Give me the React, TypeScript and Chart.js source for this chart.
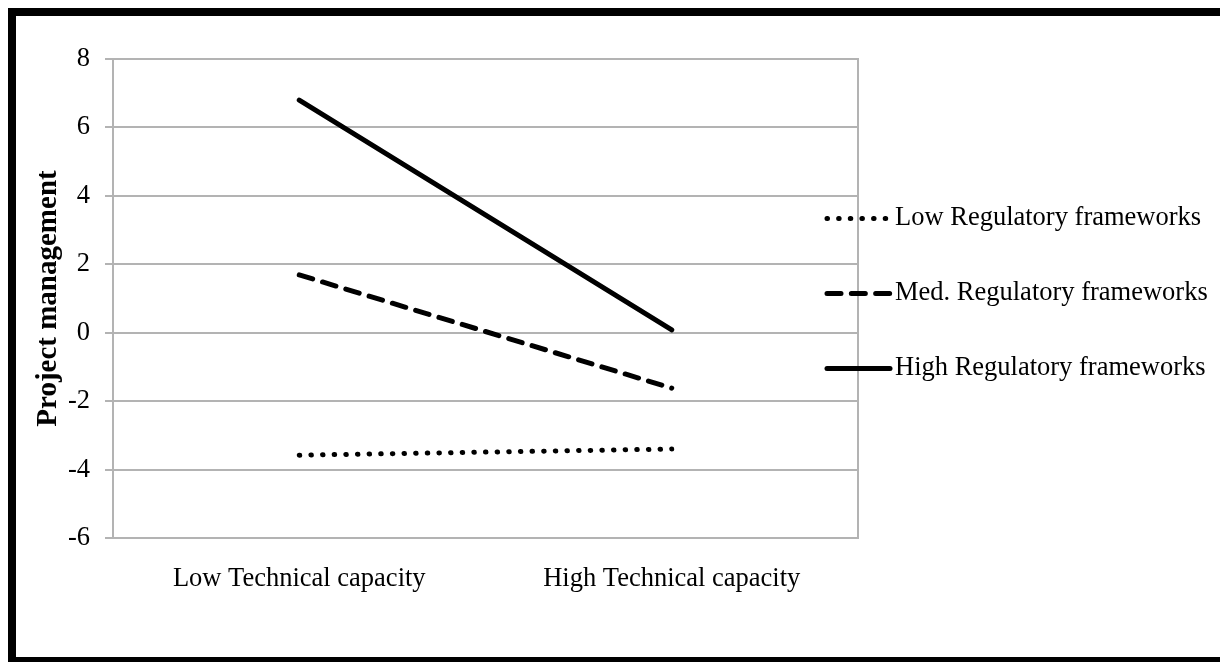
import React, { useEffect, useRef } from "react";
import { Chart, registerables } from "chart.js";

Chart.register(...registerables);

const categories = ["Low Technical capacity", "High Technical capacity"];
const seriesLabels = ["Low Regulatory frameworks", "Med. Regulatory frameworks", "High Regulatory frameworks"];
const lowRegulatory = [-3.58, -3.4];
const medRegulatory = [1.69, -1.62];
const highRegulatory = [6.8, 0.08];
const yTickMin = -6;
const yTickMax = 8;
const yTickStep = 2;
const yTitle = "Project management";

const SERIF = "'Liberation Serif', 'Times New Roman', serif";
const GRID = "#b3b3b3";

const legendPlugin = {
  id: "sideLegend",
  afterDraw(chart: any) {
    const { ctx, chartArea } = chart;
    const startX = chartArea.right - 31;
    const endX = startX + 63;
    const midY = (chartArea.top + chartArea.bottom) / 2;
    chart.data.datasets.forEach((ds: any, i: number) => {
      const y = midY - 80 + i * 75;
      ctx.save();
      ctx.strokeStyle = ds.borderColor;
      ctx.lineWidth = ds.borderWidth;
      ctx.lineCap = "round";
      ctx.setLineDash(ds.borderDash || []);
      ctx.beginPath();
      ctx.moveTo(startX, y);
      ctx.lineTo(endX, y);
      ctx.stroke();
      ctx.setLineDash([]);
      ctx.fillStyle = "#000";
      ctx.font = `26.5px ${SERIF}`;
      ctx.textBaseline = "middle";
      ctx.textAlign = "left";
      ctx.fillText(ds.label, endX + 5, y);
      ctx.restore();
    });
  },
};

export default function App() {
  const canvasRef = useRef<HTMLCanvasElement | null>(null);

  useEffect(() => {
    if (!canvasRef.current) return;
    const common = {
      borderColor: "#000",
      borderWidth: 5,
      borderCapStyle: "round",
      borderJoinStyle: "round",
      pointRadius: 0,
      pointHoverRadius: 0,
      tension: 0,
      fill: false,
    };
    const chart = new Chart(canvasRef.current, {
      type: "line",
      data: {
        labels: categories,
        datasets: [
          { ...common, label: seriesLabels[0], data: lowRegulatory, borderDash: [0.5, 11.14] },
          { ...common, label: seriesLabels[1], data: medRegulatory, borderDash: [14, 10.33] },
          { ...common, label: seriesLabels[2], data: highRegulatory, borderDash: [] },
        ],
      } as any,
      options: {
        animation: false,
        responsive: true,
        maintainAspectRatio: false,
        layout: { padding: { top: 43, right: 362, left: 0, bottom: 0 } },
        plugins: {
          legend: { display: false },
          tooltip: { enabled: false },
        },
        scales: {
          x: {
            type: "category",
            offset: true,
            border: { display: false },
            grid: { display: false, drawTicks: false },
            ticks: {
              color: "#000",
              font: { family: SERIF, size: 26.5 },
              padding: 25,
              maxRotation: 0,
              autoSkip: false,
            },
            afterFit: (scale: any) => {
              scale.height = 119;
            },
          },
          y: {
            type: "linear",
            min: yTickMin,
            max: yTickMax,
            border: { display: true, color: GRID, width: 2 },
            grid: { color: GRID, lineWidth: 2, drawTicks: true, tickLength: 8 },
            ticks: {
              stepSize: yTickStep,
              color: "#000",
              font: { family: SERIF, size: 26.5 },
              padding: 15,
            },
            title: {
              display: true,
              text: yTitle,
              color: "#000",
              font: { family: SERIF, size: 29, weight: "bold" },
              padding: { top: 15, bottom: 0 },
            },
            afterFit: (scale: any) => {
              scale.width = 97;
            },
          },
          y2: {
            type: "linear",
            position: "right",
            display: true,
            border: { display: true, color: GRID, width: 2 },
            grid: { display: false, drawTicks: false },
            ticks: { display: false },
            afterFit: (scale: any) => {
              scale.width = 0;
            },
          },
        },
      } as any,
      plugins: [legendPlugin],
    });
    return () => chart.destroy();
  }, []);

  return (
    <div
      style={{
        position: "fixed",
        left: 8,
        top: 8,
        width: 1212,
        height: 654,
        boxSizing: "border-box",
        borderTop: "8px solid #000",
        borderLeft: "8px solid #000",
        borderBottom: "5px solid #000",
        background: "#fff",
      }}
    >
      <div style={{ position: "relative", width: 1204, height: 641 }}>
        <canvas ref={canvasRef} />
      </div>
    </div>
  );
}
